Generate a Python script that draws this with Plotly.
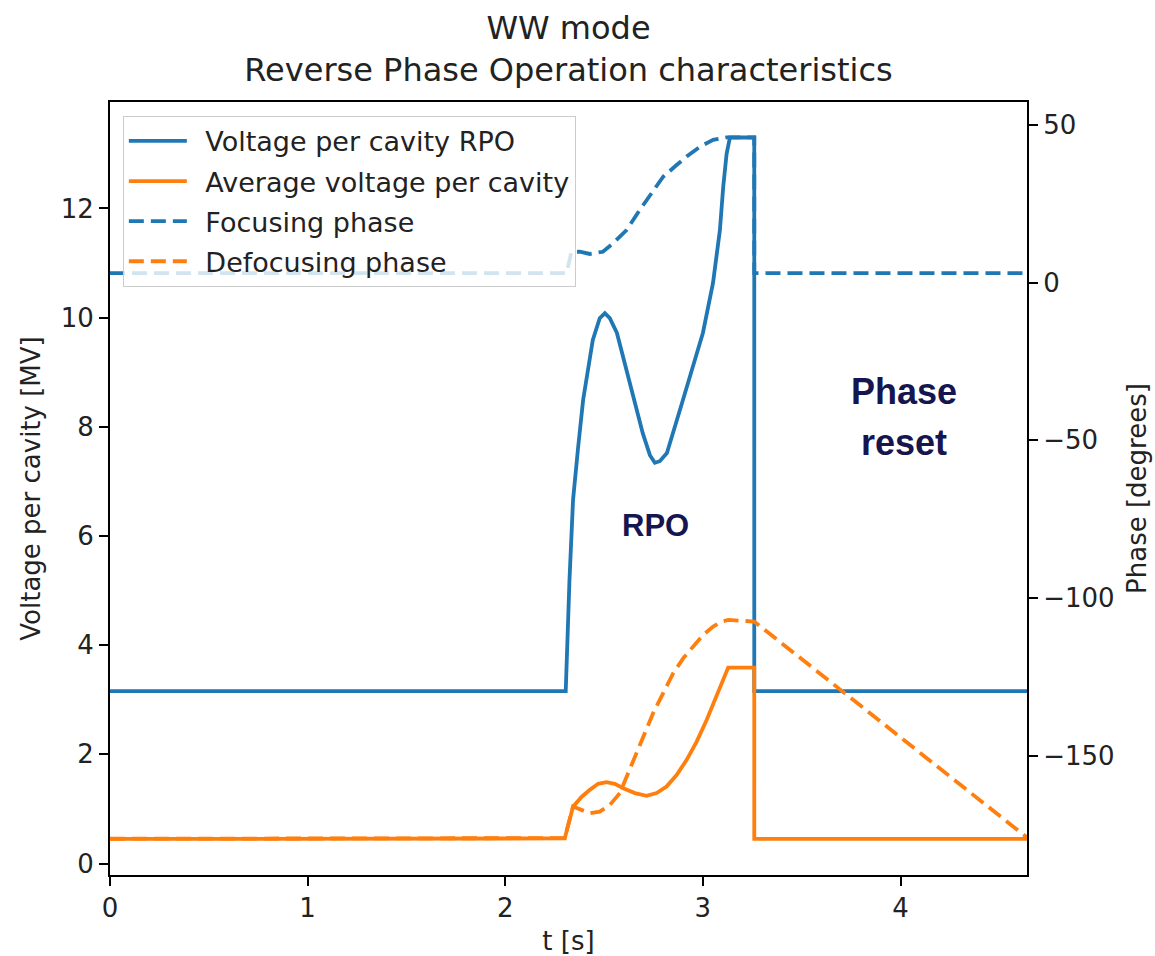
import plotly.graph_objects as go

# Time axis and traces (t in seconds)
t_rpo = [0, 2.306, 2.325, 2.343, 2.368, 2.394, 2.443, 2.478, 2.504, 2.529, 2.565,
         2.63, 2.696, 2.732, 2.757, 2.782, 2.818, 2.899, 3.0, 3.051, 3.086, 3.103,
         3.12, 3.137, 3.26, 3.26, 4.64]
v_rpo = [3.16, 3.16, 5.2, 6.66, 7.6, 8.49, 9.59, 9.99, 10.08, 9.99, 9.72,
         8.80, 7.88, 7.48, 7.34, 7.37, 7.52, 8.49, 9.72, 10.63, 11.6, 12.4,
         13.0, 13.3, 13.3, 3.16, 3.16]

t_avg = [0, 2.301, 2.343, 2.386, 2.428, 2.47, 2.512, 2.554, 2.597, 2.656, 2.715,
         2.766, 2.816, 2.867, 2.918, 2.968, 3.019, 3.061, 3.095, 3.128, 3.145,
         3.26, 3.26, 4.64]
v_avg = [0.45, 0.46, 1.04, 1.22, 1.35, 1.46, 1.49, 1.46, 1.38, 1.29, 1.24,
         1.29, 1.41, 1.62, 1.90, 2.23, 2.63, 2.99, 3.30, 3.59, 3.59,
         3.59, 0.45, 0.45]

t_foc = [0, 2.31, 2.335, 2.377, 2.428, 2.494, 2.546, 2.614, 2.681, 2.749, 2.799,
         2.867, 2.918, 2.985, 3.052, 3.12, 3.26, 3.26, 4.64]
p_foc = [3.0, 3.0, 9.8, 9.8, 9.1, 9.8, 12.5, 16.7, 23.1, 29.4, 33.6,
         37.3, 40.0, 43.1, 45.3, 46.1, 46.1, 3.0, 3.0]

t_def = [0, 2.301, 2.343, 2.386, 2.428, 2.478, 2.529, 2.58, 2.622, 2.664, 2.706,
         2.748, 2.799, 2.85, 2.901, 2.951, 3.002, 3.052, 3.095, 3.128, 3.26, 4.64]
p_def = [-176.4, -176.2, -166.2, -167.2, -168.3, -167.8, -165.7, -161.9, -155.6,
         -149.3, -142.9, -136.6, -130.2, -123.9, -119.1, -115.4, -111.7, -109.1,
         -107.5, -107.0, -107.5, -176.0]

x_ticks = [0, 1, 2, 3, 4]
v_ticks = [0, 2, 4, 6, 8, 10, 12]
p_ticks = [-150, -100, -50, 0, 50]

BLUE = "#1f77b4"
ORANGE = "#ff7f0e"
NAVY = "#151550"
FONT = "DejaVu Sans"
LW = 3.8
DASH = "15px,7px"
PAD = "\u2002"  # gap between legend line sample and label

fig = go.Figure()
fig.add_trace(go.Scatter(x=t_rpo, y=v_rpo, mode="lines", name=PAD + "Voltage per cavity RPO",
                         line=dict(color=BLUE, width=LW), legendgroup="a"))
fig.add_trace(go.Scatter(x=t_avg, y=v_avg, mode="lines", name=PAD + "Average voltage per cavity",
                         line=dict(color=ORANGE, width=LW), legendgroup="b"))
fig.add_trace(go.Scatter(x=t_foc, y=p_foc, mode="lines", name=PAD + "Focusing phase",
                         line=dict(color=BLUE, width=LW, dash=DASH), yaxis="y2",
                         legendgroup="c"))
fig.add_trace(go.Scatter(x=t_def, y=p_def, mode="lines", name=PAD + "Defocusing phase",
                         line=dict(color=ORANGE, width=LW, dash=DASH), yaxis="y2",
                         legendgroup="d"))

axis_common = dict(showline=True, linecolor="black", linewidth=2, ticks="outside",
                   ticklen=9, tickwidth=2, tickcolor="black", showgrid=False,
                   zeroline=False, automargin=False,
                   tickfont=dict(family=FONT, size=26, color="#222"))

fig.update_layout(
    width=1155, height=956,
    margin=dict(l=110, r=128, t=102, b=81),
    paper_bgcolor="white", plot_bgcolor="white",
    font=dict(family=FONT, size=26, color="#222"),
    title=dict(text="WW mode<br>Reverse Phase Operation characteristics",
               x=0.5, xref="paper", xanchor="center", y=0.959, yanchor="top",
               font=dict(family=FONT, size=32, color="#222")),
    xaxis=dict(range=[0, 4.64], tickvals=x_ticks, mirror=True,
               title=dict(text="t [s]", font=dict(family=FONT, size=26), standoff=14),
               **axis_common),
    yaxis=dict(range=[-0.21, 13.95], tickvals=v_ticks, mirror=True,
               title=dict(text="Voltage per cavity [MV]", font=dict(family=FONT, size=26),
                          standoff=13),
               **axis_common),
    yaxis2=dict(range=[-187.9, 57.3], tickvals=p_ticks, overlaying="y", side="right",
                title=dict(text="Phase [degrees]", font=dict(family=FONT, size=26),
                           standoff=14),
                **axis_common),
    legend=dict(x=0.014, y=0.982, xanchor="left", yanchor="top",
                bgcolor="rgba(255,255,255,0.8)", bordercolor="#cccccc", borderwidth=1,
                font=dict(family=FONT, size=27, color="#222"), tracegroupgap=2,
                itemwidth=58),
    showlegend=True,
)

# Region labels
fig.add_annotation(x=2.76, y=6.2, xref="x", yref="y", text="<b>RPO</b>", showarrow=False,
                   font=dict(family="Liberation Sans", size=31, color=NAVY))
fig.add_annotation(x=4.02, y=8.65, xref="x", yref="y", text="<b>Phase</b>",
                   showarrow=False,
                   font=dict(family="Liberation Sans", size=36, color=NAVY))
fig.add_annotation(x=4.02, y=7.72, xref="x", yref="y", text="<b>reset</b>",
                   showarrow=False,
                   font=dict(family="Liberation Sans", size=36, color=NAVY))

fig.write_html("out.html")
